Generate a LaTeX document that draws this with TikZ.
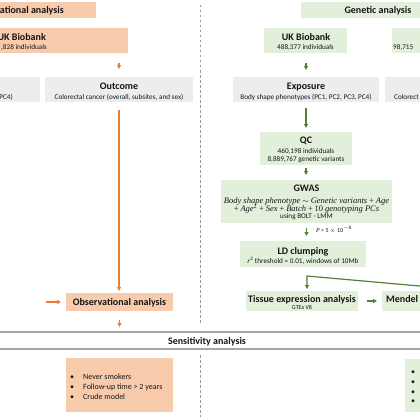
\documentclass[tikz,border=0pt]{standalone}
\usepackage{fontspec}
\setmainfont{Carlito}
\newfontfamily\gwfont{Liberation Serif}
\usetikzlibrary{arrows.meta}
\definecolor{orfill}{HTML}{F8CBAD}
\definecolor{grfill}{HTML}{E2EFDA}
\definecolor{gyfill}{HTML}{EDEDED}
\definecolor{orline}{HTML}{ED7D31}
\definecolor{grline}{HTML}{548235}
\definecolor{sepgray}{HTML}{A6A6A6}
\definecolor{dashgray}{HTML}{9A9A9A}
\definecolor{txt}{HTML}{151515}
\newcommand\gv[1]{{\gwfont\itshape #1}}
\newcommand\gu[1]{{\gwfont #1}}
\begin{document}
\begin{tikzpicture}[x=1pt,y=-1pt,
  box/.style={draw=none, inner sep=0pt, outer sep=0pt},
  obox/.style={box, fill=orfill},
  gbox/.style={box, fill=grfill},
  ybox/.style={box, fill=gyfill},
  hd/.style={inner sep=0pt, anchor=base, font=\fontsize{10}{12}\selectfont\bfseries, text=txt},
  sm/.style={inner sep=0pt, anchor=base, font=\fontsize{7.2}{9}\selectfont, text=txt},
  tiny/.style={inner sep=0pt, anchor=base, font=\fontsize{6}{7}\selectfont, text=txt},
  frm/.style={inner sep=0pt, anchor=base, font=\fontsize{8.5}{10}\selectfont, text=txt},
  bl/.style={inner sep=0pt, anchor=base west, font=\fontsize{8}{10}\selectfont, text=txt},
  oarr/.style={draw=orline, line width=1.2pt, -{Triangle[length=3.8pt,width=3.8pt]}},
  garr/.style={draw=grline, line width=1.2pt, -{Triangle[length=3.8pt,width=3.8pt]}},
  sepline/.style={draw=sepgray, line width=1.6pt},
  sepdash/.style={draw=dashgray, line width=0.7pt, dash pattern=on 2.5pt off 2.5pt},
]
\useasboundingbox (0,0) rectangle (420,420);
\fill[white] (0,0) rectangle (420,420);
\clip (0,0) rectangle (420,420);

% ---- boxes ----
\node[obox, minimum width=106pt, minimum height=16pt] (otitle) at (43,10) {};
\node[gbox, minimum width=129pt, minimum height=16pt] (gtitle) at (365.5,10) {};
\node[obox, minimum width=138pt, minimum height=25pt] (ukl) at (59,40.5) {};
\node[gbox, minimum width=83pt, minimum height=25pt] (ukr) at (305.5,40.5) {};
\node[gbox, minimum width=38pt, minimum height=25pt] (fin) at (411,40.5) {};
\node[ybox, minimum width=50pt, minimum height=25pt] (expl) at (15,89.5) {};
\node[ybox, minimum width=148pt, minimum height=25pt] (outcome) at (119,89.5) {};
\node[ybox, minimum width=146pt, minimum height=25pt] (exposure) at (306,89.5) {};
\node[ybox, minimum width=45pt, minimum height=25pt] (outr) at (407.5,89.5) {};
\node[gbox, minimum width=92pt, minimum height=33pt] (qc) at (306,148.5) {};
\node[gbox, minimum width=171pt, minimum height=43pt] (gwas) at (306.5,201.5) {};
\node[gbox, minimum width=126pt, minimum height=26pt] (ld) at (303,254) {};
\node[gbox, minimum width=112pt, minimum height=20pt] (tissue) at (302,301) {};
\node[gbox, minimum width=48pt, minimum height=20pt] (mr) at (406,301) {};
\node[obox, minimum width=107pt, minimum height=18pt] (obs) at (119.5,302) {};
\node[obox, minimum width=107pt, minimum height=54pt] (sens) at (119.5,385) {};
\node[gbox, minimum width=25pt, minimum height=53pt] (sensr) at (417.5,385.5) {};
\node[box, minimum width=430pt, minimum height=17pt] (sensbar) at (210,340.5) {};

% ---- texts ----
\node[hd, anchor=base east] (t1) at (64,13.5) {vational analysis};
\node[hd] (t2) at (378,13.5) {Genetic analysis};
\node[hd, anchor=base east] (t3) at (46,40.5) {UK Biobank};
\node[sm, anchor=base east] (t4) at (47,49.5) {,828 individuals};
\node[hd] (t5) at (306,40.5) {UK Biobank};
\node[sm] (t6) at (305.5,49.5) {488,377 individuals};
\node[sm, anchor=base west] (t7) at (393,49.5) {98,715};
\node[sm, anchor=base east] (t8) at (13,99.5) {PC4)};
\node[hd] (t9) at (119,89.3) {Outcome};
\node[sm] (t10) at (119,99.5) {Colorectal cancer (overall, subsites, and sex)};
\node[hd] (t11) at (306,89.3) {Exposure};
\node[sm] (t12) at (306,99.5) {Body shape phenotypes (PC1, PC2, PC3, PC4)};
\node[sm, anchor=base west] (t13) at (394,99.5) {Colorect};
\node[hd] (t14) at (306,143.5) {QC};
\node[sm] (t15) at (306,153.5) {460,198 individuals};
\node[sm] (t16) at (306,161) {8,889,767 genetic variants};
\node[hd] (t17) at (306.5,191.5) {GWAS};
\node[frm] (t18) at (306.5,203) {\gv{Body shape phenotype} $\sim$ \gv{Genetic variants} \gu{+} \gv{Age}};
\node[frm] (t19) at (306.5,211) {\gu{+} \gv{Age}\textsuperscript{\gu{2}} \gu{+} \gv{Sex} \gu{+} \gv{Batch} \gu{+} \gu{10} \gv{genotyping PCs}};
\node[sm] (t20) at (306.5,218.5) {using BOLT - LMM};
\node[tiny, anchor=base west] (t21) at (316,232.5) {\gv{P} < 5 $\times$ 10\textsuperscript{$-$8}};
\node[hd] (t22) at (303,254.5) {LD clumping};
\node[sm] (t23) at (303,263.5) {\gv{r}\textsuperscript{2} threshold = 0.01, windows of 10Mb};
\node[hd] (t24) at (302,302.5) {Tissue expression analysis};
\node[tiny] (t25) at (302,309) {GTEx V8};
\node[hd, anchor=base west] (t26) at (386,302.5) {Mendel};
\node[hd] (t27) at (119.5,305.5) {Observational analysis};
\node[hd] (t28) at (207,344.5) {Sensitivity analysis};
\node[bl] (b1) at (70,379) {\textbullet};
\node[bl] (b2) at (70,389) {\textbullet};
\node[bl] (b3) at (70,399) {\textbullet};
\node[bl] (s1) at (83,379) {Never smokers};
\node[bl] (s2) at (83,389) {Follow-up time > 2 years};
\node[bl] (s3) at (83,399) {Crude model};
\node[bl] (r1) at (411,374) {\textbullet};
\node[bl] (r2) at (411,384) {\textbullet};
\node[bl] (r3) at (411,394) {\textbullet};
\node[bl] (r4) at (411,403) {\textbullet};

% ---- separators ----
\draw[sepline] (sensbar.north west) -- (sensbar.north east);
\draw[sepline] (sensbar.south west) -- (sensbar.south east);
\coordinate (d1) at (200,5);
\coordinate (d2) at (200,324);
\coordinate (d3) at (200,355);
\coordinate (d4) at (200,417);
\draw[sepdash] (d1) -- (d2);
\draw[sepdash] (d3) -- (d4);

% ---- orange connectors ----
\draw[oarr, shorten <=10pt, shorten >=8pt] (outcome.north |- ukl.south) -- (outcome.north);
\draw[oarr, shorten <=8pt, shorten >=2pt] (outcome.south) -- (outcome.south |- obs.north);
\coordinate (obsin) at (46,302);
\draw[oarr, shorten >=5pt] (obsin) -- (obs.west);
\draw[oarr, shorten <=9pt, shorten >=5pt] (obs.south) -- (obs.south |- sensbar.north);

% ---- green connectors ----
\draw[garr, shorten <=10pt, shorten >=7pt] (exposure.north |- ukr.south) -- (exposure.north);
\draw[garr, shorten <=6pt, shorten >=4pt] (exposure.south) -- (qc.north);
\draw[garr, shorten <=3pt, shorten >=5pt] (qc.south) -- (qc.south |- gwas.north);
\draw[garr, shorten <=5pt, shorten >=5pt] (gwas.south) -- (gwas.south |- ld.north);
\coordinate (mrsrc) at (425,286.5);
\coordinate (bend) at (307,276);
\draw[garr, shorten >=2pt] (mrsrc) -- (bend) -- (bend |- tissue.north);
\draw[garr, shorten <=9pt, shorten >=5pt] (tissue.east) -- (mr.west);
\end{tikzpicture}
\end{document}
